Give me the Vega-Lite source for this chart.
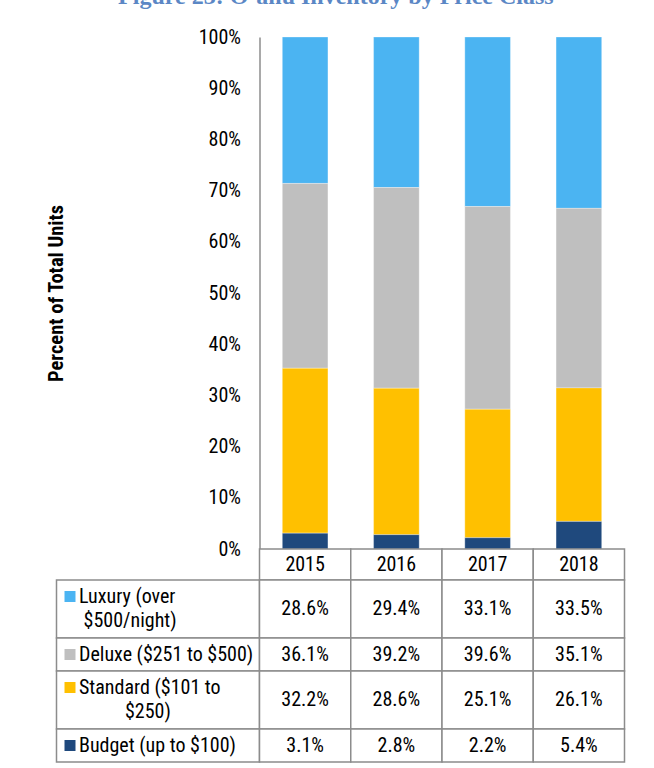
{
  "$schema": "https://vega.github.io/schema/vega-lite/v6.json",
  "background": "white",
  "padding": {"left": 45.5, "top": -15, "right": 5, "bottom": 5},
  "title": {
    "text": "Figure 23: O‘ahu Inventory by Price Class",
    "font": "Liberation Serif",
    "fontSize": 24,
    "fontWeight": "bold",
    "color": "#5b87c5",
    "anchor": "middle",
    "offset": 18
  },
  "datasets": {
    "shares": [
      {"year": "2015", "category": "Luxury", "share": 0.286},
      {"year": "2015", "category": "Deluxe", "share": 0.361},
      {"year": "2015", "category": "Standard", "share": 0.322},
      {"year": "2015", "category": "Budget", "share": 0.031},
      {"year": "2016", "category": "Luxury", "share": 0.294},
      {"year": "2016", "category": "Deluxe", "share": 0.392},
      {"year": "2016", "category": "Standard", "share": 0.286},
      {"year": "2016", "category": "Budget", "share": 0.028},
      {"year": "2017", "category": "Luxury", "share": 0.331},
      {"year": "2017", "category": "Deluxe", "share": 0.396},
      {"year": "2017", "category": "Standard", "share": 0.251},
      {"year": "2017", "category": "Budget", "share": 0.022},
      {"year": "2018", "category": "Luxury", "share": 0.335},
      {"year": "2018", "category": "Deluxe", "share": 0.351},
      {"year": "2018", "category": "Standard", "share": 0.261},
      {"year": "2018", "category": "Budget", "share": 0.054}
    ],
    "labels": [
      {"category": "Luxury", "label": "Luxury (over\n\u200b\u00a0$500/night)"},
      {"category": "Deluxe", "label": "Deluxe ($251 to $500)"},
      {"category": "Standard", "label": "Standard ($101 to\n\u200b\u00a0\u00a0\u00a0\u00a0\u00a0\u00a0\u00a0\u00a0\u00a0\u00a0$250)"},
      {"category": "Budget", "label": "Budget (up to $100)"}
    ]
  },
  "columns": 2,
  "spacing": 0,
  "bounds": "flush",
  "concat": [
    {
      "width": 203, "height": 512,
      "data": {"values": [{}]},
      "mark": {"type": "text", "text": ""}
    },
    {
      "width": 365, "height": 512,
      "data": {"name": "shares"},
      "transform": [{"calculate": "indexof(['Budget', 'Standard', 'Deluxe', 'Luxury'], datum.category)", "as": "stackRank"}],
      "mark": {"type": "bar", "stroke": "#ffffff", "strokeWidth": 0.6, "strokeOpacity": 0.5},
      "encoding": {
        "x": {"field": "year", "type": "nominal", "scale": {"paddingInner": 0.5, "paddingOuter": 0.25}, "axis": null},
        "y": {
          "field": "share", "type": "quantitative", "stack": "normalize",
          "scale": {"domain": [0, 1]},
          "axis": {
            "format": ".0%",
            "values": [0, 0.1, 0.2, 0.3, 0.4, 0.5, 0.6, 0.7, 0.8, 0.9, 1],
            "grid": false, "ticks": false,
            "domainColor": "#8c8c8c", "domainWidth": 1.5,
            "labelFontSize": 20, "labelColor": "#000000", "labelPadding": 19,
            "title": "Percent of Total Units",
            "titleFontSize": 20.5, "titleFontWeight": "bold", "titleColor": "#000000",
            "titleX": -203, "titleBaseline": "middle"
          }
        },
        "color": {
          "field": "category", "type": "nominal",
          "scale": {"domain": ["Luxury", "Deluxe", "Standard", "Budget"], "range": ["#4bb4f2", "#bfbfbf", "#ffc000", "#1f497d"]},
          "legend": null
        },
        "order": {"field": "stackRank", "type": "quantitative", "sort": "ascending"}
      }
    },
    {
      "width": 203, "height": 31,
      "data": {"values": [{}]},
      "mark": {"type": "text", "text": ""}
    },
    {
      "width": 365, "height": 31,
      "data": {"name": "shares"},
      "transform": [{"filter": "datum.category === 'Luxury'"}],
      "encoding": {"x": {"field": "year", "type": "nominal", "scale": {"paddingInner": 0, "paddingOuter": 0}, "axis": null}},
      "layer": [
        {"mark": {"type": "rect", "fill": "white", "stroke": "#8c8c8c", "strokeWidth": 1.5}},
        {"mark": {"type": "text", "fontSize": 20}, "encoding": {"text": {"field": "year"}}}
      ]
    },
    {
      "width": 203, "height": 58,
      "data": {"name": "labels"},
      "transform": [{"filter": "datum.category === 'Luxury'"}],
      "layer": [
        {"mark": {"type": "rect", "fill": "white", "stroke": "#8c8c8c", "strokeWidth": 1.5}},
        {"mark": {"type": "square", "size": 121, "opacity": 1, "filled": true, "xOffset": -88, "yOffset": -12.5},
         "encoding": {"color": {"field": "category", "type": "nominal", "scale": {"domain": ["Luxury", "Deluxe", "Standard", "Budget"], "range": ["#4bb4f2", "#bfbfbf", "#ffc000", "#1f497d"]}, "legend": null}}},
        {"mark": {"type": "text", "align": "left", "dx": -79, "dy": -12.25, "lineBreak": "\n", "lineHeight": 24.5, "fontSize": 20}, "encoding": {"text": {"field": "label"}}}
      ]
    },
    {
      "width": 365, "height": 58,
      "data": {"name": "shares"},
      "transform": [{"filter": "datum.category === 'Luxury'"}],
      "encoding": {"x": {"field": "year", "type": "nominal", "scale": {"paddingInner": 0, "paddingOuter": 0}, "axis": null}},
      "layer": [
        {"mark": {"type": "rect", "fill": "white", "stroke": "#8c8c8c", "strokeWidth": 1.5}},
        {"mark": {"type": "text", "fontSize": 20}, "encoding": {"text": {"field": "share", "type": "quantitative", "format": ".1%"}}}
      ]
    },
    {
      "width": 203, "height": 33,
      "data": {"name": "labels"},
      "transform": [{"filter": "datum.category === 'Deluxe'"}],
      "layer": [
        {"mark": {"type": "rect", "fill": "white", "stroke": "#8c8c8c", "strokeWidth": 1.5}},
        {"mark": {"type": "square", "size": 121, "opacity": 1, "filled": true, "xOffset": -88},
         "encoding": {"color": {"field": "category", "type": "nominal", "scale": {"domain": ["Luxury", "Deluxe", "Standard", "Budget"], "range": ["#4bb4f2", "#bfbfbf", "#ffc000", "#1f497d"]}, "legend": null}}},
        {"mark": {"type": "text", "align": "left", "dx": -79, "lineBreak": "\n", "lineHeight": 24.5, "fontSize": 20}, "encoding": {"text": {"field": "label"}}}
      ]
    },
    {
      "width": 365, "height": 33,
      "data": {"name": "shares"},
      "transform": [{"filter": "datum.category === 'Deluxe'"}],
      "encoding": {"x": {"field": "year", "type": "nominal", "scale": {"paddingInner": 0, "paddingOuter": 0}, "axis": null}},
      "layer": [
        {"mark": {"type": "rect", "fill": "white", "stroke": "#8c8c8c", "strokeWidth": 1.5}},
        {"mark": {"type": "text", "fontSize": 20}, "encoding": {"text": {"field": "share", "type": "quantitative", "format": ".1%"}}}
      ]
    },
    {
      "width": 203, "height": 58,
      "data": {"name": "labels"},
      "transform": [{"filter": "datum.category === 'Standard'"}],
      "layer": [
        {"mark": {"type": "rect", "fill": "white", "stroke": "#8c8c8c", "strokeWidth": 1.5}},
        {"mark": {"type": "square", "size": 121, "opacity": 1, "filled": true, "xOffset": -88, "yOffset": -12.5},
         "encoding": {"color": {"field": "category", "type": "nominal", "scale": {"domain": ["Luxury", "Deluxe", "Standard", "Budget"], "range": ["#4bb4f2", "#bfbfbf", "#ffc000", "#1f497d"]}, "legend": null}}},
        {"mark": {"type": "text", "align": "left", "dx": -79, "dy": -12.25, "lineBreak": "\n", "lineHeight": 24.5, "fontSize": 20}, "encoding": {"text": {"field": "label"}}}
      ]
    },
    {
      "width": 365, "height": 58,
      "data": {"name": "shares"},
      "transform": [{"filter": "datum.category === 'Standard'"}],
      "encoding": {"x": {"field": "year", "type": "nominal", "scale": {"paddingInner": 0, "paddingOuter": 0}, "axis": null}},
      "layer": [
        {"mark": {"type": "rect", "fill": "white", "stroke": "#8c8c8c", "strokeWidth": 1.5}},
        {"mark": {"type": "text", "fontSize": 20}, "encoding": {"text": {"field": "share", "type": "quantitative", "format": ".1%"}}}
      ]
    },
    {
      "width": 203, "height": 33,
      "data": {"name": "labels"},
      "transform": [{"filter": "datum.category === 'Budget'"}],
      "layer": [
        {"mark": {"type": "rect", "fill": "white", "stroke": "#8c8c8c", "strokeWidth": 1.5}},
        {"mark": {"type": "square", "size": 121, "opacity": 1, "filled": true, "xOffset": -88},
         "encoding": {"color": {"field": "category", "type": "nominal", "scale": {"domain": ["Luxury", "Deluxe", "Standard", "Budget"], "range": ["#4bb4f2", "#bfbfbf", "#ffc000", "#1f497d"]}, "legend": null}}},
        {"mark": {"type": "text", "align": "left", "dx": -79, "lineBreak": "\n", "lineHeight": 24.5, "fontSize": 20}, "encoding": {"text": {"field": "label"}}}
      ]
    },
    {
      "width": 365, "height": 33,
      "data": {"name": "shares"},
      "transform": [{"filter": "datum.category === 'Budget'"}],
      "encoding": {"x": {"field": "year", "type": "nominal", "scale": {"paddingInner": 0, "paddingOuter": 0}, "axis": null}},
      "layer": [
        {"mark": {"type": "rect", "fill": "white", "stroke": "#8c8c8c", "strokeWidth": 1.5}},
        {"mark": {"type": "text", "fontSize": 20}, "encoding": {"text": {"field": "share", "type": "quantitative", "format": ".1%"}}}
      ]
    }
  ],
  "config": {
    "font": "Roboto Condensed, sans-serif",
    "view": {"stroke": null},
    "text": {"fill": "#000000"}
  }
}
